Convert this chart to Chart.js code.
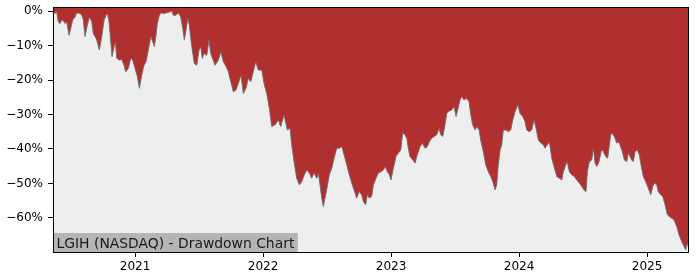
<!DOCTYPE html>
<html>
<head>
<meta charset="utf-8">
<script src="https://cdn.jsdelivr.net/npm/chart.js@4"></script>
<style>
  body { margin: 0; background: #fff; }
  #wrap { width: 700px; height: 280px; }
</style>
</head>
<body>
<div id="wrap"><canvas id="dd" width="700" height="280"></canvas></div>
<script>
// time axis in decimal years, drawdown in percent
const years = [
  2020.359, 2020.375, 2020.388, 2020.400, 2020.414, 2020.427, 2020.440, 2020.453, 2020.466, 2020.484,
  2020.498, 2020.513, 2020.531, 2020.545, 2020.570, 2020.584, 2020.596, 2020.609, 2020.627, 2020.643,
  2020.662, 2020.674, 2020.688, 2020.701, 2020.721, 2020.740, 2020.758, 2020.773, 2020.784, 2020.795,
  2020.805, 2020.820, 2020.836, 2020.846, 2020.857, 2020.877, 2020.896, 2020.914, 2020.927, 2020.948,
  2020.966, 2020.982, 2021.000, 2021.018, 2021.034, 2021.052, 2021.070, 2021.086, 2021.104, 2021.123,
  2021.138, 2021.151, 2021.164, 2021.174, 2021.190, 2021.203, 2021.221, 2021.248, 2021.273, 2021.287,
  2021.299, 2021.320, 2021.338, 2021.357, 2021.373, 2021.385, 2021.398, 2021.412, 2021.424, 2021.435,
  2021.451, 2021.463, 2021.482, 2021.500, 2021.513, 2021.526, 2021.539, 2021.560, 2021.578, 2021.591,
  2021.625, 2021.651, 2021.670, 2021.690, 2021.711, 2021.729, 2021.748, 2021.768, 2021.789, 2021.807,
  2021.828, 2021.846, 2021.867, 2021.885, 2021.904, 2021.924, 2021.943, 2021.963, 2021.990, 2022.010,
  2022.029, 2022.049, 2022.068, 2022.094, 2022.120, 2022.138, 2022.164, 2022.190, 2022.211, 2022.224,
  2022.242, 2022.263, 2022.284, 2022.302, 2022.323, 2022.341, 2022.362, 2022.380, 2022.398, 2022.420,
  2022.432, 2022.445, 2022.459, 2022.471, 2022.484, 2022.502, 2022.518, 2022.537, 2022.555, 2022.576,
  2022.596, 2022.615, 2022.633, 2022.654, 2022.674, 2022.693, 2022.711, 2022.732, 2022.750, 2022.771,
  2022.784, 2022.802, 2022.815, 2022.828, 2022.849, 2022.862, 2022.883, 2022.901, 2022.920, 2022.940,
  2022.955, 2022.971, 2022.987, 2023.000, 2023.018, 2023.039, 2023.057, 2023.076, 2023.091, 2023.109,
  2023.123, 2023.135, 2023.148, 2023.170, 2023.188, 2023.205, 2023.227, 2023.245, 2023.266, 2023.284,
  2023.299, 2023.318, 2023.336, 2023.357, 2023.375, 2023.388, 2023.404, 2023.422, 2023.435, 2023.453,
  2023.474, 2023.492, 2023.508, 2023.521, 2023.539, 2023.552, 2023.570, 2023.591, 2023.609, 2023.623,
  2023.638, 2023.656, 2023.670, 2023.688, 2023.703, 2023.721, 2023.740, 2023.760, 2023.779, 2023.795,
  2023.813, 2023.826, 2023.838, 2023.852, 2023.865, 2023.877, 2023.898, 2023.916, 2023.935, 2023.951,
  2023.969, 2023.990, 2024.008, 2024.029, 2024.047, 2024.060, 2024.080, 2024.099, 2024.117, 2024.133,
  2024.151, 2024.170, 2024.190, 2024.203, 2024.221, 2024.237, 2024.256, 2024.273, 2024.295, 2024.315,
  2024.334, 2024.346, 2024.365, 2024.377, 2024.393, 2024.412, 2024.432, 2024.451, 2024.471, 2024.490,
  2024.508, 2024.523, 2024.534, 2024.549, 2024.568, 2024.581, 2024.594, 2024.607, 2024.625, 2024.641,
  2024.654, 2024.664, 2024.677, 2024.693, 2024.706, 2024.719, 2024.737, 2024.750, 2024.763, 2024.776,
  2024.789, 2024.807, 2024.823, 2024.841, 2024.854, 2024.867, 2024.880, 2024.893, 2024.906, 2024.924,
  2024.940, 2024.953, 2024.971, 2024.990, 2025.010, 2025.029, 2025.045, 2025.057, 2025.076, 2025.088,
  2025.107, 2025.123, 2025.141, 2025.159, 2025.174, 2025.193, 2025.211, 2025.232, 2025.250, 2025.271,
  2025.289, 2025.302, 2025.315, 2025.328
];

const drawdown = [
  0, -0.7, -0.2, -3.1, -3.6, -2.6, -2.8, -3.6, -3.1, -7.0,
  -5.0, -2.6, -1.7, -0.5, -0.7, -1.2, -2.6, -7.4, -4.1, -1.7,
  -3.1, -6.5, -7.4, -8.4, -11.3, -7.4, -2.6, -1.2, -0.7, -2.6,
  -6.5, -13.2, -10.3, -8.9, -13.7, -14.2, -14.0, -15.7, -17.6, -16.6,
  -13.7, -14.2, -16.6, -19.0, -22.4, -18.6, -15.7, -14.7, -11.3, -7.4,
  -8.9, -10.3, -7.0, -3.6, -1.2, -0.5, -0.7, -0.5, -0.2, 0,
  -1.2, -1.2, -0.5, -1.7, -5.0, -8.4, -5.5, -2.1, -4.1, -7.9,
  -12.3, -15.2, -15.7, -11.3, -10.3, -13.7, -12.3, -12.8, -8.4, -12.3,
  -15.7, -14.2, -11.8, -14.7, -16.1, -17.6, -20.5, -23.4, -22.9, -21.0,
  -18.6, -23.9, -22.4, -19.5, -20.5, -17.6, -14.7, -17.1, -17.1, -21.4,
  -23.9, -28.2, -33.5, -33.0, -31.6, -33.5, -30.1, -34.5, -34.0, -38.8,
  -43.7, -48.5, -50.4, -49.5, -47.5, -46.1, -47.0, -48.5, -47.0, -48.5,
  -47.0, -50.4, -54.3, -56.7, -54.3, -50.9, -47.5, -45.6, -42.7, -39.8,
  -39.8, -39.3, -41.7, -44.6, -47.5, -49.9, -51.9, -54.3, -52.4, -53.3,
  -55.3, -56.2, -53.3, -54.2, -53.8, -50.4, -48.5, -47.0, -46.6, -46.1,
  -45.1, -46.6, -47.5, -49.0, -45.6, -42.2, -41.2, -40.3, -35.4, -35.9,
  -36.9, -39.8, -42.2, -43.2, -44.1, -41.7, -39.3, -38.3, -39.8, -39.3,
  -37.9, -36.9, -36.4, -35.9, -34.0, -35.9, -36.4, -33.0, -29.7, -29.0,
  -28.7, -27.7, -30.6, -28.7, -25.8, -24.8, -25.8, -25.3, -26.3, -30.1,
  -33.0, -34.5, -33.5, -34.5, -37.9, -40.8, -44.6, -46.6, -48.0, -49.5,
  -51.9, -50.4, -44.6, -40.3, -38.8, -34.5, -34.5, -35.0, -34.5, -31.6,
  -29.2, -27.2, -29.7, -30.6, -32.1, -34.5, -35.0, -34.5, -31.6, -34.0,
  -37.4, -38.3, -38.8, -39.8, -38.8, -37.9, -42.7, -45.1, -48.0, -48.5,
  -49.0, -46.6, -44.6, -43.7, -46.6, -47.5, -48.0, -49.0, -49.9, -50.9,
  -51.9, -52.4, -46.6, -43.7, -43.2, -39.8, -44.1, -45.1, -43.7, -40.8,
  -40.3, -41.2, -42.2, -42.7, -38.8, -35.4, -35.9, -36.9, -38.3, -37.9,
  -38.8, -40.8, -43.2, -43.7, -41.2, -42.2, -43.2, -43.7, -40.8, -40.3,
  -41.7, -44.6, -48.0, -49.5, -51.4, -53.3, -50.9, -49.9, -50.4, -52.4,
  -53.3, -53.8, -56.2, -59.1, -59.6, -60.1, -60.6, -62.5, -64.9, -66.9,
  -68.3, -69.3, -67.3, -69.3
];

const yTicks = [0, -10, -20, -30, -40, -50, -60];
const xTicks = [2021, 2022, 2023, 2024, 2025];
const title = 'LGIH (NASDAQ) - Drawdown Chart';

const font = { family: 'DejaVu Sans', size: 12 };

// red behind everything in the plot area, curve filled gray down to bottom
const plotBg = {
  id: 'plotBg',
  beforeDatasetsDraw(chart) {
    const { ctx, chartArea: a } = chart;
    ctx.save();
    ctx.fillStyle = '#b03030';
    ctx.fillRect(a.left, a.top, a.right - a.left, a.bottom - a.top);
    ctx.restore();
  }
};

const frameAndLabel = {
  id: 'frameAndLabel',
  afterDraw(chart) {
    const { ctx, chartArea: a } = chart;
    ctx.save();
    ctx.font = '13.9px "DejaVu Sans"';
    const w = ctx.measureText(title).width;
    ctx.fillStyle = '#b5b5b5';
    ctx.fillRect(a.left, a.bottom - 19, w + 7, 19);
    ctx.fillStyle = '#1a1a1a';
    ctx.textBaseline = 'alphabetic';
    ctx.fillText(title, a.left + 3.5, a.bottom - 4.5);
    ctx.strokeStyle = '#000';
    ctx.lineWidth = 1;
    ctx.strokeRect(a.left + 0.5, a.top + 0.5, a.right - a.left - 1, a.bottom - a.top);
    ctx.restore();
  }
};

// keep label overhang from shrinking the plot box
function noPad(axis) {
  axis.paddingTop = 0;
  axis.paddingBottom = 0;
  axis.paddingLeft = 0;
  axis.paddingRight = 0;
}

new Chart(document.getElementById('dd'), {
  type: 'line',
  data: {
    datasets: [{
      data: years.map((x, i) => ({ x: x, y: drawdown[i] })),
      borderColor: 'rgba(110,110,110,0.9)',
      borderWidth: 1,
      backgroundColor: '#eeeeee',
      fill: 'start',
      pointRadius: 0,
      tension: 0
    }]
  },
  options: {
    responsive: false,
    animation: false,
    layout: { padding: { top: 7, right: 11, left: 0, bottom: 0 } },
    plugins: { legend: { display: false }, tooltip: { enabled: false } },
    scales: {
      x: {
        type: 'linear',
        min: years[0],
        max: years[years.length - 1],
        afterBuildTicks: (axis) => { axis.ticks = xTicks.map(v => ({ value: v })); },
        afterFit: (axis) => { axis.height = 28; noPad(axis); },
        grid: { display: true, drawOnChartArea: false, drawTicks: true, tickLength: 5, color: '#000' },
        border: { display: false },
        ticks: { color: '#000', font: font, padding: 3, maxRotation: 0, callback: v => String(v) }
      },
      y: {
        min: -69.9,
        max: 1.2,
        afterBuildTicks: (axis) => { axis.ticks = yTicks.map(v => ({ value: v })); },
        afterFit: (axis) => { axis.width = 53; noPad(axis); },
        grid: { display: true, drawOnChartArea: false, drawTicks: true, tickLength: 5, color: '#000' },
        border: { display: false },
        ticks: {
          color: '#000', font: font, padding: 5,
          callback: v => (v < 0 ? '\u2212' + Math.abs(v) : v) + '%'
        }
      }
    }
  },
  plugins: [plotBg, frameAndLabel]
});
</script>
</body>
</html>
